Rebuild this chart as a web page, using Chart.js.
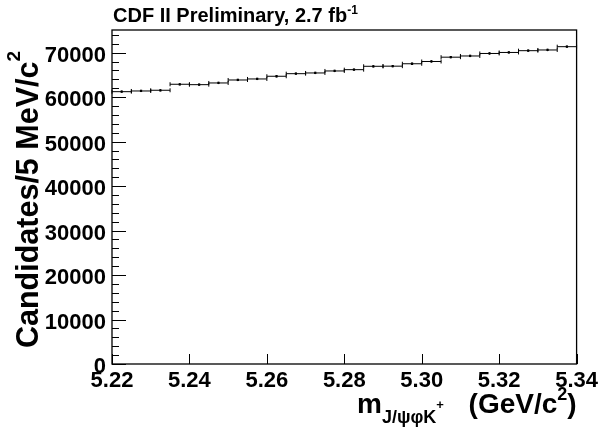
<!DOCTYPE html>
<html>
<head>
<meta charset="utf-8">
<title>J/psi phi K+ mass</title>
<script src="https://cdn.jsdelivr.net/npm/chart.js@4.4.0/dist/chart.umd.min.js"></script>
<style>
  html, body { margin: 0; padding: 0; background: #fff; }
  #wrap { width: 602px; height: 432px; }
</style>
</head>
<body>
<div id="wrap"><canvas id="massChart" width="602" height="432"></canvas></div>
<script>
// bin centres (GeV/c^2), 5 MeV bins
const binCenters = [
  5.2225, 5.2275, 5.2325, 5.2375, 5.2425, 5.2475, 5.2525, 5.2575,
  5.2625, 5.2675, 5.2725, 5.2775, 5.2825, 5.2875, 5.2925, 5.2975,
  5.3025, 5.3075, 5.3125, 5.3175, 5.3225, 5.3275, 5.3325, 5.3375
];
const candidates = [
  61230, 61390, 61550, 62900, 62810, 63190, 63860, 64090,
  64700, 65280, 65440, 65890, 66180, 66940, 66970, 67510,
  68020, 68990, 69260, 69820, 70050, 70450, 70610, 71350
];
const binWidth = 0.005;
const xTicks = [5.22, 5.24, 5.26, 5.28, 5.30, 5.32, 5.34];
const yTicks = [0, 10000, 20000, 30000, 40000, 50000, 60000, 70000];
const yMinorStep = 2000;
const yMax = 75100;

const FONT = "'Liberation Sans', Arial, Helvetica, sans-serif";

// draws text with pieces: [text, size, dy]
function drawPieces(ctx, x, y, pieces) {
  pieces.forEach(p => {
    ctx.font = 'bold ' + p[1] + 'px ' + FONT;
    ctx.fillText(p[0], x, y + p[2]);
    x += ctx.measureText(p[0]).width;
  });
  return x;
}
function piecesWidth(ctx, pieces) {
  let w = 0;
  pieces.forEach(p => {
    ctx.font = 'bold ' + p[1] + 'px ' + FONT;
    w += ctx.measureText(p[0]).width;
  });
  return w;
}

const rootStyle = {
  id: 'rootStyle',
  beforeDatasetsDraw(chart) {
    const ctx = chart.ctx;
    const xs = chart.scales.x, ys = chart.scales.y;
    ctx.save();
    ctx.strokeStyle = '#000';
    ctx.lineWidth = 1;
    binCenters.forEach((c, i) => {
      const n = candidates[i];
      const x0 = xs.getPixelForValue(c - binWidth / 2);
      const x1 = xs.getPixelForValue(c + binWidth / 2);
      const xc = xs.getPixelForValue(c);
      const y = ys.getPixelForValue(n);
      const e = Math.sqrt(n);
      ctx.beginPath();
      ctx.moveTo(x0, y); ctx.lineTo(x1, y);
      ctx.moveTo(x0, y - 2); ctx.lineTo(x0, y + 2);
      ctx.moveTo(x1, y - 2); ctx.lineTo(x1, y + 2);
      ctx.moveTo(xc, ys.getPixelForValue(n - e)); ctx.lineTo(xc, ys.getPixelForValue(n + e));
      ctx.stroke();
    });
    ctx.restore();
  },
  afterDraw(chart) {
    const ctx = chart.ctx;
    const a = chart.chartArea;
    const xs = chart.scales.x, ys = chart.scales.y;
    ctx.save();
    ctx.strokeStyle = '#000';
    ctx.fillStyle = '#000';

    // frame
    ctx.lineWidth = 1.3;
    ctx.strokeRect(a.left, a.top, a.right - a.left, a.bottom - a.top);

    // y ticks (inside)
    ctx.lineWidth = 1;
    ctx.beginPath();
    for (let v = 0; v <= yMax; v += yMinorStep) {
      const y = Math.round(ys.getPixelForValue(v)) + 0.5;
      const len = yTicks.includes(v) ? 14 : 7;
      ctx.moveTo(a.left, y); ctx.lineTo(a.left + len, y);
    }
    // x ticks (inside)
    xTicks.forEach(v => {
      const x = Math.round(xs.getPixelForValue(v)) + 0.5;
      ctx.moveTo(x, a.bottom); ctx.lineTo(x, a.bottom - 10);
    });
    ctx.stroke();

    ctx.textAlign = 'left';
    ctx.textBaseline = 'alphabetic';

    // header
    drawPieces(ctx, 113, 22, [['CDF II Preliminary, 2.7 fb', 20, 0], ['-1', 12, -8]]);

    // x title
    drawPieces(ctx, 357, 413, [['m', 28, 0], ['J/\u03c8\u03c6K', 18, 10], ['+', 13, -4]]);
    const unit = [['(GeV/c', 28, 0], ['2', 18, -13], [')', 28, 0]];
    drawPieces(ctx, a.right - piecesWidth(ctx, unit), 413, unit);

    // y title
    ctx.translate(38, 348);
    ctx.rotate(-Math.PI / 2);
    drawPieces(ctx, 0, 0, [['Candidates/5 MeV/c', 30.5, 0], ['2', 19, -18]]);
    ctx.restore();
  }
};

const ctx = document.getElementById('massChart').getContext('2d');
new Chart(ctx, {
  type: 'scatter',
  data: {
    datasets: [{
      data: binCenters.map((x, i) => ({ x: x, y: candidates[i] })),
      pointStyle: 'rect',
      pointRadius: 1.6,
      backgroundColor: '#000',
      borderColor: '#000',
      borderWidth: 0
    }]
  },
  options: {
    responsive: false,
    animation: false,
    layout: { padding: { top: 30, right: 25, left: 0, bottom: 0 } },
    plugins: { legend: { display: false }, tooltip: { enabled: false } },
    scales: {
      x: {
        type: 'linear',
        min: 5.22,
        max: 5.34,
        afterBuildTicks: s => { s.ticks = xTicks.map(v => ({ value: v })); },
        afterFit: s => { s.height = 68; },
        grid: { display: false, drawTicks: false },
        border: { display: false },
        ticks: {
          font: { family: FONT, weight: 'bold', size: 22 },
          color: '#000',
          padding: 4,
          maxRotation: 0,
          autoSkip: false,
          callback: v => v.toFixed(2)
        }
      },
      y: {
        type: 'linear',
        min: 0,
        max: yMax,
        afterBuildTicks: s => { s.ticks = yTicks.map(v => ({ value: v })); },
        afterFit: s => { s.width = 112; },
        grid: { display: false, drawTicks: false },
        border: { display: false },
        ticks: {
          font: { family: FONT, weight: 'bold', size: 22 },
          color: '#000',
          padding: 6,
          labelOffset: 3,
          callback: v => String(v)
        }
      }
    }
  },
  plugins: [rootStyle]
});
</script>
</body>
</html>
